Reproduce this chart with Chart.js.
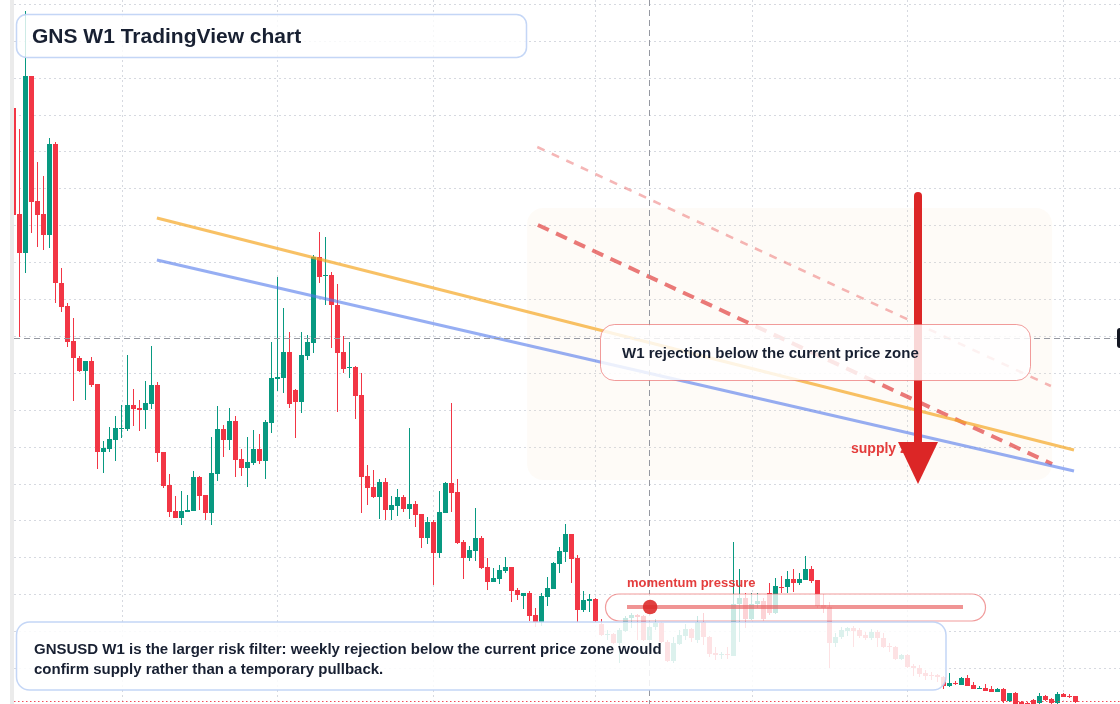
<!DOCTYPE html>
<html>
<head>
<meta charset="utf-8">
<title>GNS W1 TradingView chart</title>
<script src="https://cdn.jsdelivr.net/npm/chart.js@4.4.1/dist/chart.umd.min.js"></script>
<style>
  html, body { margin: 0; padding: 0; background: #fff; }
  #wrap { position: relative; width: 1120px; height: 704px; }
</style>
</head>
<body>
<div id="wrap"><canvas id="chart"></canvas></div>
<script>
// GNSUSD weekly candles, oldest first (x = week index)
const open = [
  6.97, 5.91, 5.52, 7.29, 6.04, 5.91, 5.70, 6.61, 5.22, 4.99,
  4.64, 4.47, 4.34, 4.44, 4.21, 3.53, 3.56, 3.65, 3.76, 3.76,
  4.00, 3.97, 3.95, 4.01, 4.20, 3.53, 3.20, 2.94, 2.87, 2.93,
  2.94, 3.28, 3.10, 2.92, 3.31, 3.76, 3.65, 3.84, 3.46, 3.37,
  3.42, 3.56, 3.44, 3.82, 4.26, 4.27, 4.53, 4.15, 4.03, 4.49,
  4.62, 5.48, 5.29, 5.30, 5.00, 4.53, 4.37, 4.38, 4.10, 3.29,
  3.18, 3.08, 3.23, 2.95, 2.99, 3.08, 2.96, 3.01, 2.91, 2.67,
  2.83, 2.52, 2.92, 3.22, 3.13, 2.63, 2.47, 2.54, 2.67, 2.38,
  2.23, 2.26, 2.34, 2.38, 2.15, 2.09, 2.12, 1.90, 1.83, 2.08,
  2.16, 2.41, 2.53, 2.71, 2.47, 1.95, 2.04, 2.06, 1.81, 1.70,
  1.71, 1.62, 1.74, 1.87, 1.90, 1.89, 1.65, 1.78, 1.82, 1.63,
  1.44, 1.61, 1.69, 1.76, 1.65, 1.83, 1.68, 1.52, 1.50, 1.51,
  1.49, 2.01, 2.07, 1.86, 2.01, 2.04, 2.12, 1.92, 2.18, 2.18,
  2.26, 2.22, 2.25, 2.36, 2.25, 2.00, 1.98, 1.62, 1.68, 1.74,
  1.77, 1.75, 1.70, 1.67, 1.73, 1.67, 1.59, 1.58, 1.46, 1.50,
  1.39, 1.37, 1.32, 1.30, 1.30, 1.28, 1.19, 1.22, 1.20, 1.27,
  1.20, 1.16, 1.17, 1.16, 1.13, 1.16, 1.04, 1.12, 1.03, 1.02,
  1.05, 1.02, 1.09, 1.06, 1.02, 1.11, 1.09, 1.09
];
const high = [
  7.00, 6.76, 7.94, 7.29, 6.43, 6.29, 6.67, 6.63, 5.37, 5.02,
  4.87, 4.49, 4.44, 4.48, 4.21, 3.64, 3.78, 3.89, 4.00, 4.50,
  4.16, 4.05, 4.24, 4.59, 4.23, 3.53, 3.31, 3.09, 3.14, 3.10,
  3.34, 3.29, 3.10, 3.68, 3.99, 3.80, 3.97, 3.89, 3.56, 3.68,
  3.75, 3.71, 3.85, 4.63, 5.28, 4.97, 4.73, 4.16, 4.73, 4.70,
  5.50, 5.73, 5.68, 5.33, 5.21, 4.69, 4.63, 4.39, 4.32, 3.40,
  3.35, 3.26, 3.27, 3.09, 3.16, 3.10, 3.77, 3.04, 2.91, 2.88,
  2.85, 3.14, 3.23, 4.02, 3.26, 2.65, 2.59, 2.97, 2.69, 2.47,
  2.37, 2.40, 2.48, 2.38, 2.17, 2.12, 2.14, 1.97, 2.12, 2.28,
  2.43, 2.58, 2.81, 2.71, 2.50, 2.14, 2.11, 2.07, 1.86, 1.75,
  1.72, 1.77, 1.89, 1.92, 1.91, 1.90, 1.82, 1.86, 1.83, 1.65,
  1.68, 1.75, 1.81, 1.77, 1.89, 1.92, 1.69, 1.58, 1.53, 1.58,
  2.63, 2.36, 2.12, 2.12, 2.12, 2.07, 2.22, 2.27, 2.29, 2.34,
  2.36, 2.32, 2.49, 2.39, 2.25, 2.11, 2.03, 1.72, 1.78, 1.78,
  1.79, 1.77, 1.73, 1.76, 1.75, 1.72, 1.62, 1.59, 1.51, 1.51,
  1.41, 1.40, 1.35, 1.33, 1.31, 1.29, 1.32, 1.24, 1.28, 1.30,
  1.23, 1.19, 1.21, 1.19, 1.17, 1.17, 1.12, 1.13, 1.04, 1.03,
  1.06, 1.12, 1.10, 1.07, 1.13, 1.12, 1.11, 1.09
];
const low = [
  5.65, 4.68, 5.32, 5.72, 5.58, 5.55, 5.57, 5.02, 4.93, 4.58,
  4.04, 4.33, 4.05, 4.18, 3.36, 3.32, 3.53, 3.44, 3.67, 3.74,
  3.79, 3.74, 3.76, 3.96, 3.43, 3.17, 2.88, 2.87, 2.80, 2.93,
  2.94, 2.95, 2.85, 2.80, 3.24, 3.48, 3.55, 3.28, 3.29, 3.18,
  3.40, 3.41, 3.26, 3.72, 4.14, 4.12, 3.97, 3.67, 3.92, 4.45,
  4.52, 5.22, 5.00, 4.57, 3.93, 4.32, 4.27, 3.86, 2.92, 3.00,
  3.07, 2.86, 2.85, 2.85, 2.89, 2.93, 2.86, 2.78, 2.57, 2.61,
  2.20, 2.47, 2.92, 2.93, 2.61, 2.26, 2.44, 2.44, 2.36, 2.15,
  2.23, 2.21, 2.32, 2.03, 2.05, 1.96, 1.84, 1.78, 1.79, 1.99,
  2.16, 2.32, 2.43, 2.22, 1.83, 1.93, 1.93, 1.83, 1.69, 1.65,
  1.61, 1.42, 1.73, 1.77, 1.65, 1.64, 1.64, 1.75, 1.62, 1.43,
  1.42, 1.60, 1.65, 1.63, 1.62, 1.60, 1.48, 1.45, 1.46, 1.46,
  1.49, 1.63, 1.77, 1.85, 1.97, 1.84, 1.90, 1.91, 2.12, 2.12,
  2.13, 2.20, 2.25, 2.22, 1.97, 1.92, 1.37, 1.58, 1.66, 1.69,
  1.58, 1.67, 1.65, 1.65, 1.58, 1.57, 1.53, 1.45, 1.45, 1.37,
  1.29, 1.28, 1.25, 1.25, 1.23, 1.16, 1.18, 1.20, 1.20, 1.19,
  1.16, 1.16, 1.14, 1.13, 1.13, 1.02, 1.03, 1.00, 0.97, 0.97,
  0.98, 1.00, 1.04, 1.01, 1.01, 1.08, 1.07, 1.02
];
const close = [
  5.90, 5.52, 7.29, 6.03, 5.90, 5.70, 6.61, 5.22, 4.98, 4.63,
  4.47, 4.34, 4.44, 4.20, 3.53, 3.57, 3.66, 3.77, 3.77, 4.00,
  3.96, 3.95, 4.02, 4.20, 3.52, 3.19, 2.93, 2.87, 2.94, 2.95,
  3.28, 3.09, 2.92, 3.32, 3.76, 3.65, 3.84, 3.45, 3.37, 3.43,
  3.56, 3.44, 3.83, 4.27, 4.28, 4.53, 4.01, 4.03, 4.50, 4.63,
  5.48, 5.28, 5.30, 5.00, 4.52, 4.36, 4.38, 4.09, 3.28, 3.17,
  3.08, 3.23, 2.95, 3.00, 3.08, 2.96, 3.01, 2.90, 2.67, 2.83,
  2.52, 2.93, 3.22, 3.12, 2.62, 2.47, 2.55, 2.67, 2.37, 2.23,
  2.27, 2.35, 2.38, 2.14, 2.10, 2.12, 1.89, 1.83, 2.09, 2.17,
  2.42, 2.54, 2.71, 2.46, 1.95, 2.05, 2.06, 1.84, 1.70, 1.71,
  1.62, 1.75, 1.87, 1.90, 1.88, 1.65, 1.78, 1.82, 1.63, 1.44,
  1.62, 1.70, 1.76, 1.67, 1.83, 1.68, 1.51, 1.50, 1.51, 1.50,
  2.01, 2.07, 1.86, 2.01, 2.04, 1.86, 1.92, 2.19, 2.17, 2.26,
  2.22, 2.26, 2.36, 2.24, 1.99, 1.97, 1.62, 1.68, 1.75, 1.77,
  1.74, 1.69, 1.67, 1.73, 1.67, 1.58, 1.58, 1.46, 1.50, 1.38,
  1.37, 1.31, 1.29, 1.29, 1.28, 1.19, 1.22, 1.21, 1.27, 1.19,
  1.16, 1.17, 1.14, 1.13, 1.16, 1.04, 1.12, 1.01, 0.99, 0.99,
  1.00, 1.09, 1.05, 1.02, 1.11, 1.08, 1.08, 1.03
];

// drawn trend lines: [week, price]
const resistanceTrend = [[23.9, 5.87], [176.75, 3.55]];
const midTrend = [[23.9, 5.45], [176.75, 3.34]];
const supplyTrend = [[87.4, 5.80], [173.1, 3.41]];
const outerTrend = [[87.3, 6.58], [172.9, 4.19]];

// grid lines (unlabelled)
const gridWeeks = [18.1, 43.9, 69.9, 96.9, 123.1, 148.9, 174.9];
const gridPrices = [1.00, 1.37, 1.74, 2.11, 2.48, 2.85, 3.21, 3.58, 3.95, 4.32,
                    4.69, 5.06, 5.43, 5.80, 6.17, 6.54, 6.90, 7.27, 7.64, 8.01];

const currentPrice = 4.67;
const cursorWeek = 105.9;
const lowMarker = 1.04;

// annotation anchors in week / price
const supplyZone = { from: 85.6, to: 173.1, top: 5.97, bottom: 3.25 };
const arrow = { week: 150.75, start: 6.09, headBase: 3.63, tip: 3.21 };
const momentum = { from: 102.25, to: 158.25, price: 1.98, dot: 106.1 };

const UP = '#089981';
const DOWN = '#f23645';
const INK = '#182032';
const FONT = '"Liberation Sans", Arial, sans-serif';

const weeks = open.map((_, i) => i);
const candleColor = ctx => {
  const i = ctx.dataIndex;
  if (i === undefined) return UP;
  return close[i] >= open[i] ? UP : DOWN;
};
const toPoints = arr => arr.map(([x, y]) => ({ x, y }));

function rrect(ctx, x, y, w, h, r, fill, stroke, lw) {
  ctx.beginPath();
  ctx.roundRect(x, y, w, h, r);
  if (fill) { ctx.fillStyle = fill; ctx.fill(); }
  if (stroke) { ctx.strokeStyle = stroke; ctx.lineWidth = lw || 1; ctx.stroke(); }
}

const overlay = {
  id: 'overlay',
  beforeDatasetsDraw(chart) {
    const { ctx, chartArea: a, scales: { x, y } } = chart;
    ctx.save();
    ctx.fillStyle = '#ebebeb';
    ctx.fillRect(10, 0, 4, chart.height);

    // dotted grid
    ctx.strokeStyle = '#d6d9e0';
    ctx.lineWidth = 1;
    ctx.setLineDash([2, 3]);
    gridPrices.forEach(p => {
      const py = Math.round(y.getPixelForValue(p)) + 0.5;
      ctx.beginPath(); ctx.moveTo(a.left, py); ctx.lineTo(a.right, py); ctx.stroke();
    });
    gridWeeks.forEach(w => {
      const px = Math.round(x.getPixelForValue(w)) + 0.5;
      ctx.beginPath(); ctx.moveTo(px, a.top); ctx.lineTo(px, a.bottom); ctx.stroke();
    });
    ctx.setLineDash([]);

    // faint supply zone
    const zx1 = x.getPixelForValue(supplyZone.from), zx2 = x.getPixelForValue(supplyZone.to);
    const zy1 = y.getPixelForValue(supplyZone.top), zy2 = y.getPixelForValue(supplyZone.bottom);
    rrect(ctx, zx1, zy1, zx2 - zx1, zy2 - zy1, 16, 'rgba(250,225,200,0.14)');
    ctx.restore();
  },
  afterDatasetsDraw(chart) {
    const { ctx, chartArea: a, scales: { x, y } } = chart;
    ctx.save();

    // low marker dotted red line
    const ly = Math.round(y.getPixelForValue(lowMarker)) + 0.5;
    ctx.strokeStyle = 'rgba(242,54,69,0.9)';
    ctx.lineWidth = 1;
    ctx.setLineDash([1.5, 2.5]);
    ctx.beginPath(); ctx.moveTo(a.left, ly); ctx.lineTo(a.right, ly); ctx.stroke();

    // crosshair
    ctx.strokeStyle = '#9598a1';
    ctx.setLineDash([6, 4]);
    const cy = Math.round(y.getPixelForValue(currentPrice)) + 0.5;
    ctx.beginPath(); ctx.moveTo(a.left, cy); ctx.lineTo(a.right, cy); ctx.stroke();
    const cx = Math.round(x.getPixelForValue(cursorWeek)) + 0.5;
    ctx.beginPath(); ctx.moveTo(cx, a.top); ctx.lineTo(cx, a.bottom); ctx.stroke();
    ctx.setLineDash([]);

    // supply zone label (partly under the arrow head)
    ctx.fillStyle = 'rgba(225,40,40,0.9)';
    ctx.font = 'bold 14px ' + FONT;
    ctx.textBaseline = 'alphabetic';
    ctx.fillText('supply zone', 851, 453);

    // big down arrow
    const ax = x.getPixelForValue(arrow.week);
    const aTop = y.getPixelForValue(arrow.start);
    const aBase = y.getPixelForValue(arrow.headBase);
    const aTip = y.getPixelForValue(arrow.tip);
    ctx.strokeStyle = '#dc2626';
    ctx.lineWidth = 8;
    ctx.lineCap = 'round';
    ctx.beginPath(); ctx.moveTo(ax, aTop); ctx.lineTo(ax, aBase + 2); ctx.stroke();
    ctx.lineCap = 'butt';
    ctx.fillStyle = '#dc2626';
    ctx.beginPath();
    ctx.moveTo(ax - 20, aBase); ctx.lineTo(ax + 20, aBase); ctx.lineTo(ax, aTip);
    ctx.closePath(); ctx.fill();

    // W1 rejection box
    rrect(ctx, 600.5, 324.5, 430, 56, 14, 'rgba(255,255,255,0.82)', 'rgba(232,90,90,0.6)', 1);
    ctx.fillStyle = INK;
    ctx.font = 'bold 15px ' + FONT;
    ctx.textBaseline = 'middle';
    ctx.fillText('W1 rejection below the current price zone', 622, 353.5);

    // title box
    rrect(ctx, 16.5, 14.5, 510, 43, 10, 'rgba(255,255,255,0.8)', 'rgba(190,210,245,0.9)', 1.5);
    ctx.fillStyle = INK;
    ctx.font = 'bold 21px ' + FONT;
    ctx.textBaseline = 'alphabetic';
    ctx.fillText('GNS W1 TradingView chart', 32, 43);

    // momentum pressure pill
    rrect(ctx, 605.5, 594, 380, 27, 13.5, 'rgba(255,255,255,0.78)', 'rgba(232,90,90,0.6)', 1.2);
    const my = y.getPixelForValue(momentum.price);
    ctx.strokeStyle = 'rgba(232,90,90,0.65)';
    ctx.lineWidth = 4;
    ctx.beginPath();
    ctx.moveTo(x.getPixelForValue(momentum.from), my);
    ctx.lineTo(x.getPixelForValue(momentum.to), my);
    ctx.stroke();
    ctx.fillStyle = 'rgba(220,38,38,0.88)';
    ctx.beginPath(); ctx.arc(x.getPixelForValue(momentum.dot), my, 7.3, 0, Math.PI * 2); ctx.fill();
    ctx.fillStyle = 'rgba(225,40,40,0.9)';
    ctx.font = 'bold 13px ' + FONT;
    ctx.fillText('momentum pressure', 627, 587);

    // bottom note
    rrect(ctx, 16.5, 622, 929.5, 68, 13, 'rgba(255,255,255,0.86)', 'rgba(190,210,245,0.9)', 1.5);
    ctx.fillStyle = INK;
    ctx.font = 'bold 15px ' + FONT;
    ctx.fillText('GNSUSD W1 is the larger risk filter: weekly rejection below the current price zone would', 34, 654);
    ctx.fillText('confirm supply rather than a temporary pullback.', 34, 674);

    // price label stub on the right edge
    rrect(ctx, 1117, 328, 12, 20, 3, '#131722');
    ctx.restore();
  }
};

const lineDs = (pts, color, width, dash) => ({
  type: 'line',
  data: toPoints(pts),
  borderColor: color,
  borderWidth: width,
  borderDash: dash || [],
  pointRadius: 0,
  fill: false,
  order: 0
});

new Chart(document.getElementById('chart'), {
  type: 'bar',
  data: {
    datasets: [
      lineDs(resistanceTrend, 'rgba(245,166,35,0.7)', 3),
      lineDs(midTrend, 'rgba(80,120,235,0.6)', 3),
      lineDs(supplyTrend, 'rgba(222,50,50,0.65)', 4, [12, 8]),
      lineDs(outerTrend, 'rgba(232,80,80,0.42)', 2.5, [8, 8]),
      {
        label: 'body',
        data: weeks.map(i => ({ x: i, y: [open[i], close[i]] })),
        backgroundColor: candleColor,
        barThickness: 5,
        minBarLength: 1,
        grouped: false,
        inflateAmount: 0,
        borderWidth: 0,
        order: 1
      },
      {
        label: 'wick',
        data: weeks.map(i => ({ x: i, y: [low[i], high[i]] })),
        backgroundColor: candleColor,
        barThickness: 1,
        minBarLength: 1,
        grouped: false,
        inflateAmount: 0,
        borderWidth: 0,
        order: 2
      }
    ]
  },
  options: {
    animation: false,
    responsive: true,
    maintainAspectRatio: false,
    layout: { padding: { left: 14, right: 0, top: 0, bottom: 0 } },
    plugins: { legend: { display: false }, tooltip: { enabled: false } },
    scales: {
      x: { type: 'linear', display: false, offset: false, min: 0.0833, max: 184.4167 },
      y: { type: 'linear', display: false, min: 1.01, max: 8.05 }
    }
  },
  plugins: [overlay]
});
</script>
</body>
</html>
